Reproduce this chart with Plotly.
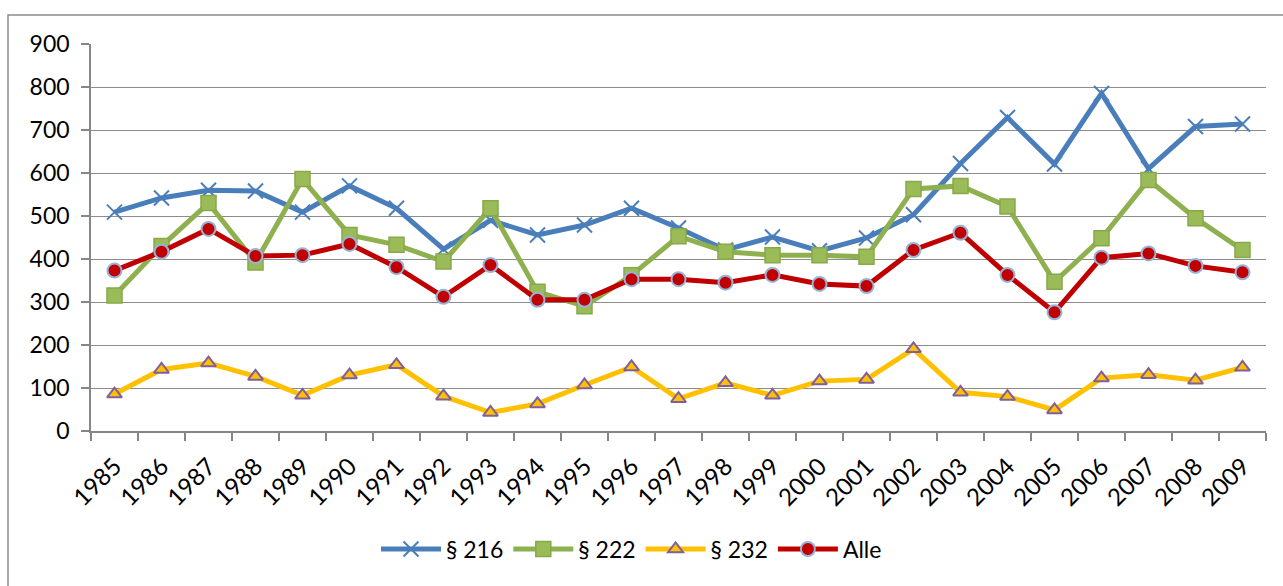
import plotly.graph_objects as go

years = [str(y) for y in range(1985, 2010)]

s216 = [509, 542, 560, 558, 509, 570, 518, 423, 490, 456, 479, 518, 472, 421, 451,
        419, 449, 503, 622, 729, 621, 785, 610, 708, 714]
s222 = [315, 430, 530, 392, 586, 456, 433, 394, 518, 324, 290, 362, 453, 417, 409,
        409, 405, 563, 570, 522, 347, 448, 584, 495, 421]
s232 = [86, 143, 158, 127, 83, 130, 154, 81, 43, 63, 107, 149, 75, 112, 83,
        116, 120, 191, 90, 80, 49, 123, 131, 118, 148]
alle = [373, 417, 470, 407, 409, 435, 381, 312, 386, 305, 305, 353, 353, 345, 363,
        342, 337, 421, 461, 363, 276, 403, 413, 384, 369]

FONT = "Lato"
FS = 23

fig = go.Figure()
fig.add_trace(go.Scatter(
    x=years, y=s216, name="§ 216", mode="lines+markers",
    line=dict(color="#4A7EBB", width=5),
    marker=dict(symbol="x-thin", size=15, line=dict(color="#4A7EBB", width=2), color="#4A7EBB"),
))
fig.add_trace(go.Scatter(
    x=years, y=s222, name="§ 222", mode="lines+markers",
    line=dict(color="#8EB04F", width=5),
    marker=dict(symbol="square", size=15, color="#9BBB59", line=dict(color="#86A94A", width=1.5)),
))
fig.add_trace(go.Scatter(
    x=years, y=s232, name="§ 232", mode="lines+markers",
    line=dict(color="#FFC000", width=5),
    marker=dict(symbol="triangle-up", size=13, color="#FFC000", line=dict(color="#7F5FA0", width=2)),
))
fig.add_trace(go.Scatter(
    x=years, y=alle, name="Alle", mode="lines+markers",
    line=dict(color="#C00000", width=5),
    marker=dict(symbol="circle", size=14, color="#C00000", line=dict(color="#95B3D7", width=2)),
))

fig.update_layout(
    width=1283, height=586,
    margin=dict(l=91, r=17, t=44, b=155),
    paper_bgcolor="white", plot_bgcolor="white",
    font=dict(family=FONT, size=FS, color="black"),
    showlegend=True,
    legend=dict(orientation="h", x=0.46, xanchor="center", y=-0.305, yanchor="middle",
                font=dict(family=FONT, size=FS), itemwidth=60, tracegroupgap=0,
                bgcolor="rgba(0,0,0,0)"),
    xaxis=dict(
        type="category", showgrid=False, showline=True, linecolor="#868686", linewidth=1.5,
        ticks="outside", ticklen=8, tickcolor="#868686", tickwidth=1.5,
        tickson="boundaries", tickangle=-45, tickfont=dict(family=FONT, size=24),
        ticklabelstandoff=10,
        range=[-0.5, 24.5], zeroline=False,
    ),
    yaxis=dict(
        range=[0, 900], dtick=100, showgrid=True, gridcolor="#8C8C8C", gridwidth=1.2,
        showline=True, linecolor="#868686", linewidth=1.5,
        ticks="outside", ticklen=8, tickcolor="#868686", tickwidth=1.5,
        tickfont=dict(family=FONT, size=FS), zeroline=False, ticklabelstandoff=7,
    ),
    shapes=[dict(type="rect", xref="paper", yref="paper",
                 x0=(8 - 91) / 1175, x1=1.2, y0=-0.6, y1=(431 - 15) / 387,
                 line=dict(color="#8C8C8C", width=1.5), fillcolor="rgba(0,0,0,0)", layer="below")],
)

fig.write_html("out.html", config={"displayModeBar": False},
               post_script="document.body.style.margin='0';")
